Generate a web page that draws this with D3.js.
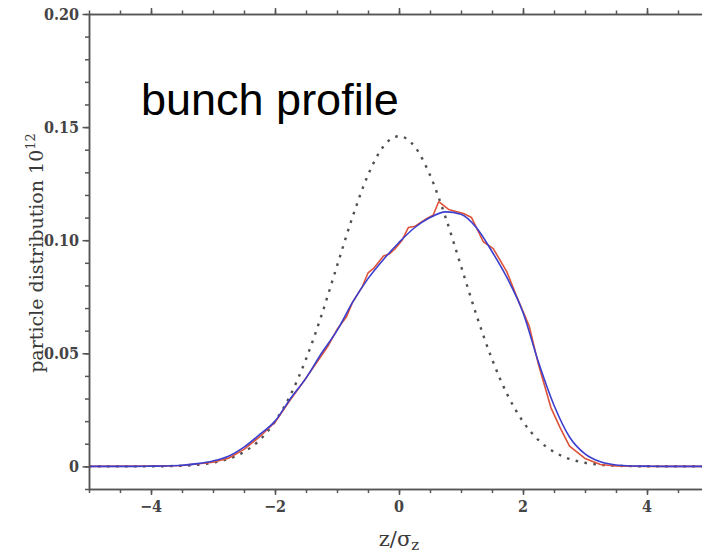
<!DOCTYPE html>
<html>
<head>
<meta charset="utf-8">
<script src="https://cdn.jsdelivr.net/npm/d3@7"></script>
<style>
  body { margin: 0; background: #fff; }
  svg { display: block; }
  .tick-label { font-family: "DejaVu Serif Condensed", "DejaVu Serif", serif; font-stretch: condensed; font-weight: bold; font-size: 16px; fill: #444; }
  .axis-title { font-family: "DejaVu Serif", serif; fill: #3a3a3a; }
</style>
</head>
<body>
<svg id="chart" width="702" height="554"></svg>
<script>
// gaussian reference (dashed), sampled every 0.25
var gaussZ = [-5, -4.75, -4.5, -4.25, -4, -3.75, -3.5, -3.25, -3, -2.75, -2.5, -2.25, -2, -1.75, -1.5, -1.25, -1, -0.75, -0.5, -0.25,
              0, 0.25, 0.5, 0.75, 1, 1.25, 1.5, 1.75, 2, 2.25, 2.5, 2.75, 3, 3.25, 3.5, 3.75, 4, 4.25, 4.5, 4.75, 5];
var gaussV = [0, 0, 0, 0, 0.00005, 0.0001, 0.0003, 0.0007, 0.0016, 0.0033, 0.0064, 0.0116, 0.0198, 0.0316, 0.0474, 0.0668, 0.0886, 0.1102, 0.1288, 0.1415,
              0.146, 0.1415, 0.1288, 0.1102, 0.0886, 0.0668, 0.0474, 0.0316, 0.0198, 0.0116, 0.0064, 0.0033, 0.0016, 0.0007, 0.0003, 0.0001, 0.00005, 0, 0, 0, 0];

// simulated profile (red, noisy)
var redZ = [-5, -4, -3.5, -3, -2.75, -2.5, -2.25, -2, -1.75, -1.5, -1.3, -1.15, -1, -0.85, -0.75, -0.6, -0.5, -0.41, -0.25, -0.15, -0.06,
            0.05, 0.15, 0.26, 0.45, 0.55, 0.64, 0.8, 1.04, 1.17, 1.36, 1.52, 1.74, 1.9, 2.1, 2.25, 2.45, 2.6, 2.75, 3, 3.25, 3.5, 4, 5];
var redV = [0, 0.0001, 0.0004, 0.0018, 0.0036, 0.0075, 0.013, 0.0195, 0.0295, 0.039, 0.047, 0.053, 0.0605, 0.066, 0.0725, 0.079, 0.0855, 0.0875, 0.093, 0.094, 0.0963,
            0.1, 0.1056, 0.1062, 0.1096, 0.111, 0.117, 0.1136, 0.1118, 0.11, 0.0993, 0.0963, 0.086, 0.075, 0.062, 0.045, 0.026, 0.017, 0.009, 0.0035, 0.0008, 0.0002, 0, 0];

// fitted profile (blue), every 0.25
var blueZ = gaussZ;
var blueV = [0, 0, 0, 0, 0.0001, 0.0002, 0.0005, 0.0012, 0.0024, 0.0045, 0.0085, 0.014, 0.02, 0.03, 0.039, 0.05, 0.06, 0.0725, 0.083, 0.0915,
             0.099, 0.1055, 0.11, 0.1125, 0.1115, 0.1055, 0.095, 0.083, 0.068, 0.046, 0.027, 0.013, 0.0055, 0.002, 0.0006, 0.0002, 0.0001, 0, 0, 0, 0];

var xMajor = [-4, -2, 0, 2, 4];
var xMinor = d3.range(-5, 5.01, 0.5);
var yMajor = [0, 0.05, 0.1, 0.15, 0.2];
var yMinor = d3.range(-0.01, 0.2001, 0.01);

var svg = d3.select('#chart');
var x = d3.scaleLinear().domain([-5, 5]).range([89, 709]);
var y = d3.scaleLinear().domain([-0.01, 0.2]).range([489, 14]);
var axisColor = '#555';

function pts(zs, vs) {
  return zs.map(function(z, i) { return [z, vs[i]]; });
}

var line = d3.line()
  .x(function(d) { return x(d[0]); })
  .y(function(d) { return y(d[1]); })
  .curve(d3.curveLinear);
var smooth = d3.line()
  .x(function(d) { return x(d[0]); })
  .y(function(d) { return y(d[1]); })
  .curve(d3.curveMonotoneX);

// curves
svg.append('path')
  .datum(pts(gaussZ, gaussV))
  .attr('d', smooth)
  .attr('fill', 'none')
  .attr('stroke', '#505050')
  .attr('stroke-width', 2.4)
  .attr('stroke-dasharray', '2.6,6.4');

svg.append('path')
  .datum(pts(redZ, redV))
  .attr('d', line)
  .attr('fill', 'none')
  .attr('stroke', '#dd5238')
  .attr('stroke-width', 1.6)
  .attr('stroke-linejoin', 'round');

svg.append('path')
  .datum(pts(blueZ, blueV))
  .attr('d', smooth)
  .attr('fill', 'none')
  .attr('stroke', '#3b3fcf')
  .attr('stroke-width', 1.6);

// axes: minor ticks first, then majors with labels
function styleAxis(g) {
  g.selectAll('path, line').attr('stroke', axisColor).attr('stroke-width', 1.5);
  g.selectAll('text').remove();
}

svg.append('g').attr('transform', 'translate(0,489)')
  .call(d3.axisBottom(x).tickValues(xMinor).tickSize(4).tickSizeOuter(0))
  .call(styleAxis);
svg.append('g').attr('transform', 'translate(0,489)')
  .call(d3.axisBottom(x).tickValues(xMajor).tickSize(6).tickSizeOuter(0))
  .call(styleAxis);

svg.append('g').attr('transform', 'translate(0,14)')
  .call(d3.axisTop(x).tickValues(xMinor).tickSize(3.5).tickSizeOuter(0))
  .call(styleAxis);
svg.append('g').attr('transform', 'translate(0,14)')
  .call(d3.axisTop(x).tickValues(xMajor).tickSize(6).tickSizeOuter(0))
  .call(styleAxis);

svg.append('g').attr('transform', 'translate(89,0)')
  .call(d3.axisLeft(y).tickValues(yMinor).tickSize(4).tickSizeOuter(0))
  .call(styleAxis);
svg.append('g').attr('transform', 'translate(89,0)')
  .call(d3.axisLeft(y).tickValues(yMajor).tickSize(6.5).tickSizeOuter(0))
  .call(styleAxis);

// tick labels
svg.selectAll('text.xlab')
  .data(xMajor)
  .enter().append('text')
  .attr('class', 'tick-label xlab')
  .attr('x', function(d) { return x(d); })
  .attr('y', 512)
  .attr('text-anchor', 'middle')
  .text(function(d) { return d < 0 ? '\u2212' + Math.abs(d) : d; });

svg.selectAll('text.ylab')
  .data(yMajor)
  .enter().append('text')
  .attr('class', 'tick-label ylab')
  .attr('x', 79)
  .attr('y', function(d) { return y(d) + 6; })
  .attr('text-anchor', 'end')
  .text(function(d) { return d === 0 ? '0' : d.toFixed(2); });

// titles
var yt = svg.append('text')
  .attr('class', 'axis-title')
  .attr('transform', 'translate(43,253) rotate(-90)')
  .attr('text-anchor', 'middle')
  .style('font-size', '19px');
yt.append('tspan').text('particle distribution 10');
yt.append('tspan').attr('dy', -8).style('font-size', '13px').text('12');

var xt = svg.append('text')
  .attr('class', 'axis-title')
  .attr('x', 399)
  .attr('y', 546)
  .attr('text-anchor', 'middle')
  .style('font-size', '21px');
xt.append('tspan').text('z/\u03c3');
xt.append('tspan').attr('dy', 4).style('font-size', '15px').text('z');

svg.append('text')
  .attr('x', 141)
  .attr('y', 115)
  .style('font-family', '"Liberation Sans", Arial, sans-serif')
  .style('font-size', '45px')
  .attr('fill', '#000')
  .text('bunch profile');
</script>
</body>
</html>
